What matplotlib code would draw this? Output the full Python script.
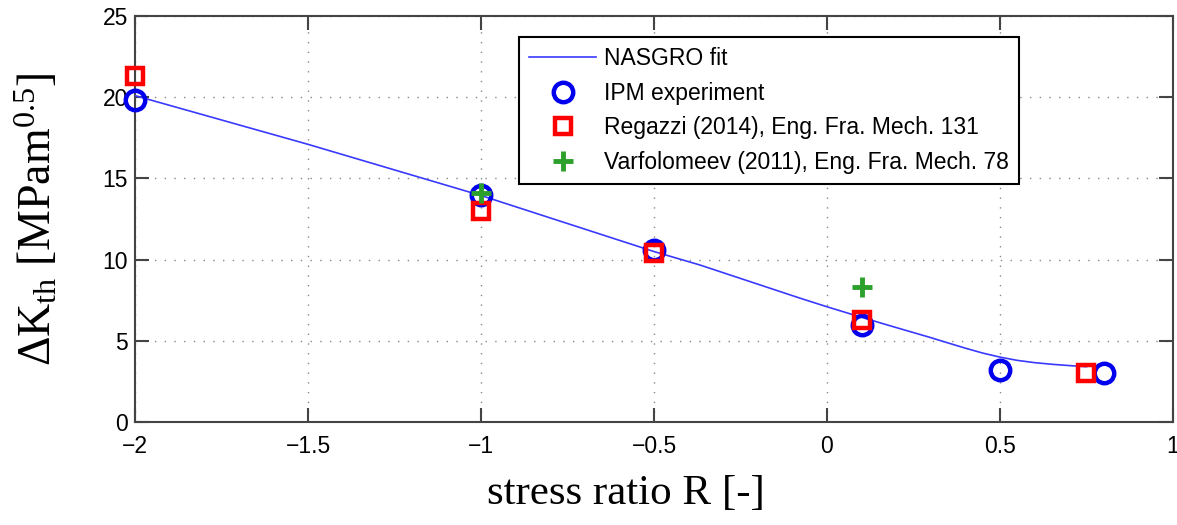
import matplotlib
matplotlib.use("Agg")
import matplotlib.pyplot as plt

plt.rcParams['font.family'] = ['Liberation Sans', 'DejaVu Sans']
plt.rcParams['mathtext.fontset'] = 'custom'
plt.rcParams['mathtext.rm'] = 'Liberation Serif'
plt.rcParams['mathtext.it'] = 'Liberation Serif:italic'

# NASGRO fit curve
fit_R = [-2.0, -1.5, -1.0, -0.5, -0.367, -0.078, 0.0, 0.1, 0.2, 0.3, 0.338, 0.4, 0.45, 0.5, 0.55, 0.6, 0.65, 0.7, 0.75]
fit_K = [20.1, 17.1, 13.95, 10.5, 9.67, 7.63, 7.1, 6.45, 5.82, 5.2, 4.95, 4.55, 4.25, 4.0, 3.8, 3.66, 3.56, 3.48, 3.41]

# IPM experiment
ipm_R = [-2.0, -1.0, -0.5, 0.1, 0.5, 0.8]
ipm_K = [19.8, 14.0, 10.6, 6.0, 3.2, 3.0]

# Regazzi (2014)
reg_R = [-2.0, -1.0, -0.5, 0.1, 0.75]
reg_K = [21.3, 13.0, 10.4, 6.3, 3.0]

# Varfolomeev (2011)
var_R = [-1.0, 0.1]
var_K = [14.1, 8.3]

fig = plt.figure(figsize=(11.77, 5.25), dpi=100)
ax = fig.add_axes([0.1147, 0.196, 0.8819, 0.7735])

ax.plot(fit_R, fit_K, color='#3a3aff', lw=1.2, label='NASGRO fit', zorder=3)
ax.plot(ipm_R, ipm_K, 'o', ms=14, mfc='none', mec='#0000ee', mew=3.2,
        label='IPM experiment', zorder=4, clip_on=False)
ax.plot(reg_R, reg_K, 's', ms=11.5, mfc='none', mec='#ff0000', mew=3.2,
        label='Regazzi (2014), Eng. Fra. Mech. 131', zorder=5, clip_on=False)
ax.plot(var_R, var_K, '+', ms=14, mec='#2ca02c', mew=3.5,
        label='Varfolomeev (2011), Eng. Fra. Mech. 78', zorder=6)

ax.set_xlim(-2, 1)
ax.set_ylim(0, 25)
ax.set_xticks([-2, -1.5, -1, -0.5, 0, 0.5, 1])
ax.set_yticks([0, 5, 10, 15, 20, 25])
ax.set_xticklabels(['\u22122', '\u22121.5', '\u22121', '\u22120.5', '0', '0.5', '1'])

ax.grid(True, linestyle=(0, (1, 6)), color='#888888', lw=1)
ax.tick_params(direction='in', length=10, width=1.5, labelsize=16.5, color='#444444',
               top=True, right=True)
ax.tick_params(axis='x', pad=9)
ax.tick_params(axis='y', pad=5)
for s in ax.spines.values():
    s.set_color('#444444')
    s.set_linewidth(1.5)

ax.set_xlabel('stress ratio R [-]', family='Liberation Serif', fontsize=31)
ax.xaxis.set_label_coords(0.473, -0.128)
ax.set_ylabel(r'$\Delta\mathrm{K}_{\mathrm{th}}\ [\mathrm{MPam}^{0.5}]$', fontsize=33)
ax.yaxis.set_label_coords(-0.072, 0.5)

leg = ax.legend(loc='upper left', bbox_to_anchor=(0.37, 0.948), fontsize=16.5,
                frameon=True, fancybox=False, edgecolor='black', framealpha=1,
                borderpad=0.45, labelspacing=0.5, handlelength=2.9, handletextpad=0.35,
                borderaxespad=0)
leg.get_frame().set_linewidth(1.5)

fig.savefig('out.png', dpi=100)
